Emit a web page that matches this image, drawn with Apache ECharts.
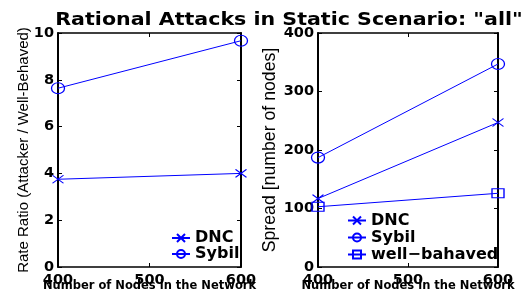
<!DOCTYPE html>
<html><head><meta charset="utf-8">
<script src="https://cdn.jsdelivr.net/npm/echarts@6/dist/echarts.min.js"></script>
<style>html,body{margin:0;padding:0;background:#fff}#c{width:531px;height:295px}</style>
</head><body><div id="c"></div>
<script>
const nodes = [400, 600];
const ratioDNC = [3.75, 4.0];
const ratioSybil = [7.64, 9.67];
const spreadDNC = [117, 247];
const spreadSybil = [187, 347];
const spreadWell = [103, 126];
const titleText = 'Rational Attacks in Static Scenario: "all"';

const BLUE = '#0000ff';
const BOLD = 'DejaVu Sans';
const xPath = 'path://M0,0L10,10M10,0L0,10';
const sqPath = 'path://M0,0L10,0L10,10L0,10Z';

function pairs(vals){ return nodes.map((n,i)=>[n, vals[i]]); }

function mkX(grid, show){
  return {
    gridIndex: grid, type:'value', min:400, max:600, interval:100,
    position: show ? 'bottom' : 'top',
    name: show ? 'Number of Nodes in the Network' : '',
    nameLocation:'middle', nameGap: 13, nameMoveOverlap:false,
    nameTextStyle:{fontFamily:BOLD, fontWeight:'bold', fontSize:11.5, color:'#000'},
    axisLine:{show:true, onZero:false, lineStyle:{color:'#000', width:1.5}},
    axisTick:{show:true, inside:true, length:4, lineStyle:{color:'#000'}},
    axisLabel:{show:show, fontFamily:BOLD, fontWeight:'bold', fontSize:14.5, color:'#000', margin:6},
    splitLine:{show:false}
  };
}
function mkY(grid, show, max, interval, name, gap, nameSize){
  return {
    gridIndex: grid, type:'value', min:0, max:max, interval:interval,
    position: show ? 'left' : 'right',
    name: show ? name : '',
    nameLocation:'middle', nameGap: gap, nameMoveOverlap:false,
    nameTextStyle:{fontFamily:'Liberation Sans', fontSize:nameSize, color:'#000'},
    axisLine:{show:true, onZero:false, lineStyle:{color:'#000', width:2}},
    axisTick:{show:true, inside:true, length:4, lineStyle:{color:'#000'}},
    axisLabel:{show:show, fontFamily:BOLD, fontWeight:'bold', fontSize:14.5, color:'#000', margin:4},
    splitLine:{show:false}
  };
}
function ser(name, vals, xi, yi, symbol, size){
  return {
    name, type:'line', xAxisIndex:xi, yAxisIndex:yi, data:pairs(vals),
    symbol, symbolSize:size, showSymbol:true,
    lineStyle:{color:BLUE, width:1},
    itemStyle:{color:'rgba(0,0,0,0)', borderColor:BLUE, borderWidth:1.2},
    emphasis:{disabled:true}, animation:false
  };
}
const legendText = {fontFamily:BOLD, fontWeight:'bold', fontSize:16, color:'#000'};

const chart = echarts.init(document.getElementById('c'), null, {renderer:'canvas'});
chart.setOption({
  animation:false,
  graphic:[{
    type:'text', x:289, y:20.5, scaleX:1.21, scaleY:1,
    style:{text:titleText, font:'bold 17px "DejaVu Sans"', fill:'#000', align:'center', verticalAlign:'middle'}
  }],
  grid:[
    {left:58, top:33, width:183, height:234, outerBoundsMode:'none', containLabel:false},
    {left:318, top:33, width:180, height:234, outerBoundsMode:'none', containLabel:false}
  ],
  xAxis:[mkX(0,true), mkX(0,false), mkX(1,true), mkX(1,false)],
  yAxis:[
    mkY(0,true,10,2,'Rate Ratio (Attacker / Well-Behaved)',27,15), mkY(0,false,10,2,'',0,15),
    mkY(1,true,400,100,'Spread [number of nodes]',39,17.7), mkY(1,false,400,100,'',0,15)
  ],
  legend:[
    {data:['DNC','Sybil'], orient:'vertical', left:166, top:225, itemGap:0, itemWidth:18, itemHeight:10,
     textStyle:legendText},
    {data:['DNC ','Sybil ','well\u2212bahaved'], orient:'vertical', left:342, top:207.5, itemGap:1, itemWidth:18, itemHeight:10,
     textStyle:legendText}
  ],
  series:[
    ser('DNC', ratioDNC, 0, 0, xPath, [11,8]),
    ser('Sybil', ratioSybil, 0, 0, 'circle', [13,11]),
    ser('DNC ', spreadDNC, 2, 2, xPath, [11,8]),
    ser('Sybil ', spreadSybil, 2, 2, 'circle', [13,11]),
    ser('well\u2212bahaved', spreadWell, 2, 2, sqPath, [12,9])
  ]
});
</script></body></html>
